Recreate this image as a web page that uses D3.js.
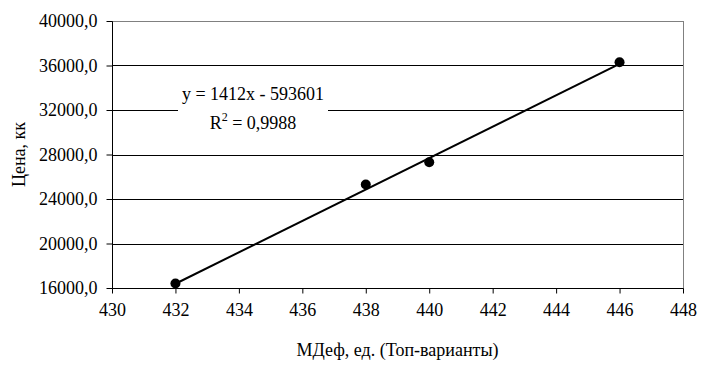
<!DOCTYPE html>
<html>
<head>
<meta charset="utf-8">
<script src="https://cdn.jsdelivr.net/npm/d3@7"></script>
<style>
  body { margin: 0; background: #fff; }
  text { font-family: "Liberation Serif", "Times New Roman", serif; fill: #000; }
</style>
</head>
<body>
<svg id="chart" width="702" height="366"></svg>
<script>
// data
const xValues = [432, 438, 440, 446];
const prices = [16400, 25300, 27300, 36300];
const xTicks = [430, 432, 434, 436, 438, 440, 442, 444, 446, 448];
const yTicks = [16000, 20000, 24000, 28000, 32000, 36000, 40000];
const trendSlope = 1412;
const trendIntercept = -593601;
const equationText = "y = 1412x - 593601";
const r2Text = "0,9988";

var svg = d3.select("#chart"),
  margin = { top: 21, right: 19, bottom: 78, left: 112 },
  width = +svg.attr("width") - margin.left - margin.right,
  height = +svg.attr("height") - margin.top - margin.bottom;

var x = d3.scaleLinear().domain([430, 448]).range([0, width]),
  y = d3.scaleLinear().domain([16000, 40000]).range([height, 0]);

var g = svg.append("g")
  .attr("transform", `translate(${margin.left},${margin.top})`);

// plot frame (grey top and right)
g.append("rect")
  .attr("x", 0.5).attr("y", 0.5)
  .attr("width", width).attr("height", height)
  .attr("fill", "none")
  .attr("stroke", "#808080");

// horizontal gridlines
g.selectAll(".grid")
  .data(yTicks.filter(d => d > 16000 && d < 40000))
  .enter().append("line")
  .attr("x1", 0).attr("x2", width)
  .attr("y1", d => Math.round(y(d)) + 0.5)
  .attr("y2", d => Math.round(y(d)) + 0.5)
  .attr("stroke", "#000");

var fmt = d => d.toFixed(1).replace(".", ",");

g.append("g")
  .attr("class", "axis axis--y")
  .attr("transform", "translate(0.5,0)")
  .call(d3.axisLeft(y).tickValues(yTicks).tickFormat(fmt).tickSize(6).tickPadding(9))
  .call(a => a.select(".domain").attr("stroke", "#000").attr("d", `M0,${height + 0.5}V0.5`))
  .call(a => a.selectAll("text").attr("font-size", 18).attr("font-family", "Liberation Serif"));

g.append("g")
  .attr("class", "axis axis--x")
  .attr("transform", `translate(0,${height + 0.5})`)
  .call(d3.axisBottom(x).tickValues(xTicks).tickFormat(d3.format("d")).tickSize(5).tickPadding(10))
  .call(a => a.select(".domain").attr("stroke", "#000").attr("d", `M0.5,0H${width + 0.5}`))
  .call(a => a.selectAll("text").attr("font-size", 18).attr("font-family", "Liberation Serif"));

// trend line
var xr = d3.extent(xValues);
g.append("line")
  .attr("x1", x(xr[0])).attr("y1", y(trendSlope * xr[0] + trendIntercept))
  .attr("x2", x(xr[1])).attr("y2", y(trendSlope * xr[1] + trendIntercept))
  .attr("stroke", "#000")
  .attr("stroke-width", 2);

// points
g.selectAll(".pt")
  .data(xValues)
  .enter().append("circle")
  .attr("cx", d => x(d))
  .attr("cy", (d, i) => y(prices[i]))
  .attr("r", 5)
  .attr("fill", "#000");

// equation label
var lab = g.append("g").attr("transform", `translate(${253 - margin.left},${100 - margin.top})`);
lab.append("rect")
  .attr("x", -75).attr("y", -17)
  .attr("width", 150).attr("height", 50)
  .attr("fill", "#fff");
lab.append("text")
  .attr("text-anchor", "middle")
  .attr("font-size", 18)
  .text(equationText);
var r2 = lab.append("text")
  .attr("text-anchor", "middle")
  .attr("y", 29)
  .attr("font-size", 18);
r2.append("tspan").text("R");
r2.append("tspan").attr("font-size", 12).attr("dy", -8).text("2");
r2.append("tspan").attr("dy", 8).text(" = " + r2Text);

// axis titles
svg.append("text")
  .attr("text-anchor", "middle")
  .attr("x", margin.left + width / 2)
  .attr("y", 356)
  .attr("font-size", 18)
  .text("МДеф, ед. (Топ-варианты)");

svg.append("text")
  .attr("text-anchor", "middle")
  .attr("transform", `translate(25,${margin.top + height / 2}) rotate(-90)`)
  .attr("font-size", 18)
  .text("Цена, кк");
</script>
</body>
</html>
